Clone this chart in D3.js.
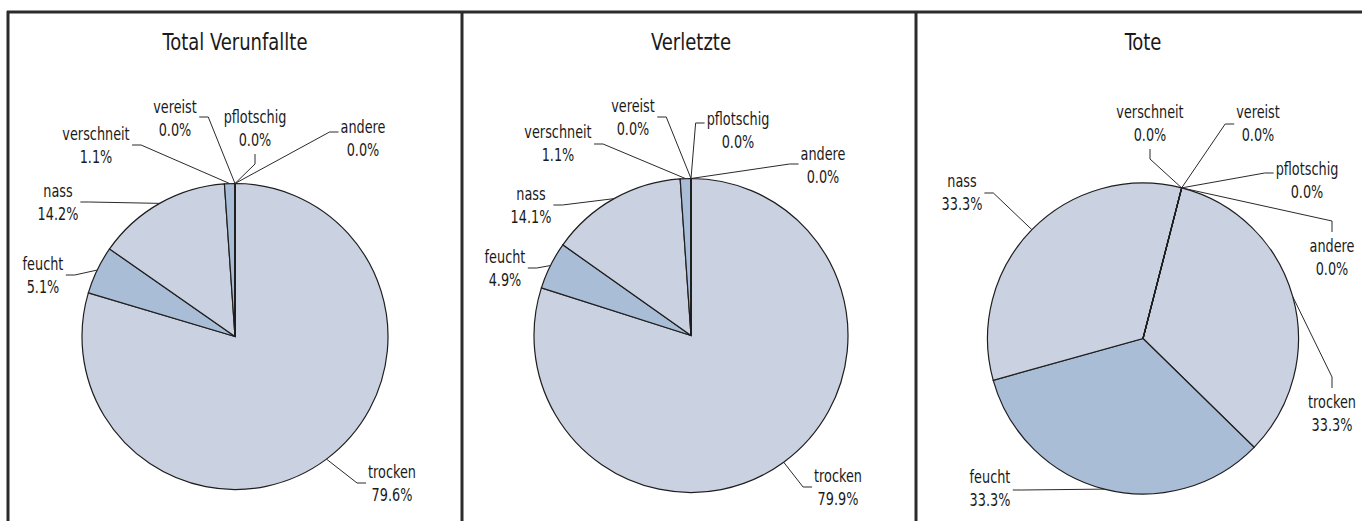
<!DOCTYPE html>
<html>
<head>
<meta charset="utf-8">
<script src="https://cdn.jsdelivr.net/npm/d3@7"></script>
<style>
  body { margin: 0; background: #fff; }
  svg text { font-family: "DejaVu Sans Condensed", "DejaVu Sans", sans-serif; fill: #1a1a1a; }
</style>
</head>
<body>
<div id="chart"></div>
<script>
// data
var categories = ["trocken", "feucht", "nass", "verschneit", "vereist", "pflotschig", "andere"];
var totalValues = [79.6, 5.1, 14.2, 1.1, 0.0, 0.0, 0.0];
var verletzteValues = [79.9, 4.9, 14.1, 1.1, 0.0, 0.0, 0.0];
var toteValues = [33.3, 33.3, 33.3, 0.0, 0.0, 0.0, 0.0];
var titles = ["Total Verunfallte", "Verletzte", "Tote"];

var w = 1362, h = 521;
var svg = d3.select("#chart").append("svg")
	.attr("width", w)
	.attr("height", h);

var colors = ["#cad1e0", "#a9bdd7"];
var sxLabel = 0.84, sxTitle = 0.87;

// layout: label centre x, first baseline, side where the leader attaches, y offset
var panels = [
	{ title: titles[0], values: totalValues, cx: 235, cy: 336.5, r: 153, start: 0,
	  labels: [[392, 478, "left", 5], [43, 270, "right", 5], [58, 197, "right", 5],
	           [96, 140, "right", 5], [175, 113, "right", 4], [255, 123, "bottom"], [363, 133, "left", -1]] },
	{ title: titles[1], values: verletzteValues, cx: 691, cy: 335.5, r: 157, start: 0,
	  labels: [[838, 482, "left", 5], [505, 263, "right", 5], [531, 200, "right", 5],
	           [558, 138, "right", 6], [633, 112, "right", 5], [738, 125, "left", -2], [823, 160, "left", 4]] },
	{ title: titles[2], values: toteValues, cx: 1143, cy: 338.5, r: 155.5, start: 14.4,
	  labels: [[1332, 408, "top"], [990, 483, "right", 7], [962, 187, "right", 6],
	           [1150, 118, "bottom"], [1258, 118, "left", 6], [1307, 175, "left", -2], [1332, 252, "top"]] }
];

panels.forEach(function(p) {
	var a0 = p.start * Math.PI / 180;
	var pie = d3.pie().sort(null).startAngle(a0).endAngle(a0 + 2 * Math.PI);
	var arcs = pie(p.values);
	var arc = d3.arc().innerRadius(0).outerRadius(p.r);
	var rim = d3.arc().innerRadius(p.r).outerRadius(p.r);

	var g = svg.append("g").attr("transform", `translate(${p.cx},${p.cy})`);
	g.selectAll("path.slice").data(arcs).enter().append("path")
		.attr("class", "slice")
		.attr("d", arc)
		.attr("fill", function(d, i) { return colors[i % 2]; })
		.attr("stroke", "#1e1e1e")
		.attr("stroke-width", 1.2)
		.attr("stroke-linejoin", "miter");

	svg.append("g")
		.attr("transform", `translate(${p.cx},0) scale(${sxTitle},1)`)
		.append("text")
		.attr("x", 0)
		.attr("y", 50)
		.attr("text-anchor", "middle")
		.style("font-size", "23px")
		.text(p.title);

	arcs.forEach(function(d, i) {
		var L = p.labels[i];
		var t = svg.append("g")
			.attr("transform", `translate(${L[0]},0) scale(${sxLabel},1)`)
			.append("text")
			.attr("text-anchor", "middle")
			.style("font-size", "17px");
		t.append("tspan").attr("x", 0).attr("y", L[1]).text(categories[i]);
		t.append("tspan").attr("x", 0).attr("y", L[1] + 23).text(d.data.toFixed(1) + "%");
		var bb = t.node().getBBox();
		var left = L[0] + bb.x * sxLabel,
			right = L[0] + (bb.x + bb.width) * sxLabel;

		var c = rim.centroid(d);
		var end = [p.cx + c[0], p.cy + c[1]];
		var s, e, dy = L[3] || 0, el = 9;
		if (L[2] == "left") { s = [left - 2, L[1] + dy]; e = [s[0] - el, s[1]]; }
		else if (L[2] == "right") { s = [right + 2, L[1] + dy]; e = [s[0] + el, s[1]]; }
		else if (L[2] == "top") { s = [L[0], L[1] - 20]; e = [s[0], s[1] - 11]; }
		else { s = [L[0], L[1] + 31]; e = [s[0], s[1] + 10]; }

		svg.append("path")
			.attr("d", d3.line()([s, e, end]))
			.attr("fill", "none")
			.attr("stroke", "#2a2a2a")
			.attr("stroke-width", 1);
	});
});

// frame
var frame = svg.append("g").attr("stroke", "#2b2b2b").attr("stroke-width", 3);
frame.append("line").attr("x1", 7).attr("x2", w).attr("y1", 12).attr("y2", 12);
[8, 462, 916].forEach(function(x) {
	frame.append("line").attr("x1", x).attr("x2", x).attr("y1", 11).attr("y2", h);
});
</script>
</body>
</html>
